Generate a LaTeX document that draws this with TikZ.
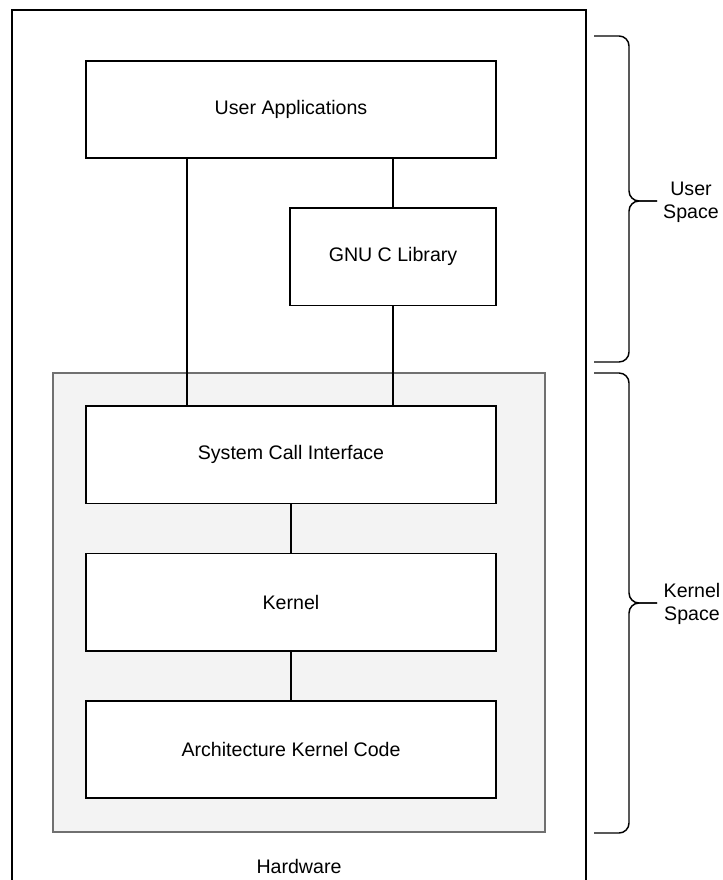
\documentclass[tikz,border=0pt]{standalone}
\usepackage{fontspec}
\setmainfont{Liberation Sans}
\usetikzlibrary{positioning}
\definecolor{kernfill}{HTML}{F3F3F3}
\definecolor{kerndraw}{HTML}{707070}

\begin{document}
\begin{tikzpicture}[x=0.75pt,y=-0.75pt,node distance=37.5pt,every node/.append style={align=center,font=\fontsize{14.7}{17.5}\selectfont},
  layer/.style={draw,fill=white,line width=1.1pt,minimum width=307.5pt,minimum height=73pt,inner sep=0pt,outer sep=0pt},
  kernelbg/.style={draw=kerndraw,fill=kernfill,line width=1.1pt},
  link/.style={line width=1.1pt},
  bracket/.style={line width=1.1pt,rounded corners=7.5pt}]
    \useasboundingbox (0,0) rectangle (723,880);
    \draw[link] (12,880) -- (12,10) -- (586,10) -- (586,880);
    \node (hw) at (299,866) {Hardware};
    \draw[kernelbg] (53,373) rectangle (545,832);
    \node [layer] (ua) at (291,109.5) {User Applications};
    \node [layer, minimum width=154.5pt, below=of ua.south east, anchor=north east] (glibc) {GNU C Library};
    \node [layer, below=186pt of ua] (sci) {System Call Interface};
    \node [layer, below=of sci] (kern) {Kernel};
    \node [layer, below=of kern] (arch) {Architecture Kernel Code};
    \draw[link] ([xshift=75.75pt]ua.south west) -- ([xshift=75.75pt]sci.north west);
    \draw[link] (glibc.north) -- (glibc.north |- ua.south);
    \draw[link] (glibc.south) -- (glibc.south |- sci.north);
    \draw[link] (sci) -- (kern);
    \draw[link] (kern) -- (arch);
    % braces
    \draw[bracket] (594,36) -| (629,201) -- (657,201);
    \draw[bracket] (594,362) -| (629,201) -- (657,201);
    \node (us) at (691,202) {User\\Space};
    \draw[bracket] (594,373) -| (629,603) -- (657,603);
    \draw[bracket] (594,833) -| (629,603) -- (657,603);
    \node (ks) at (692,604) {Kernel\\Space};
\end{tikzpicture}
\end{document}
